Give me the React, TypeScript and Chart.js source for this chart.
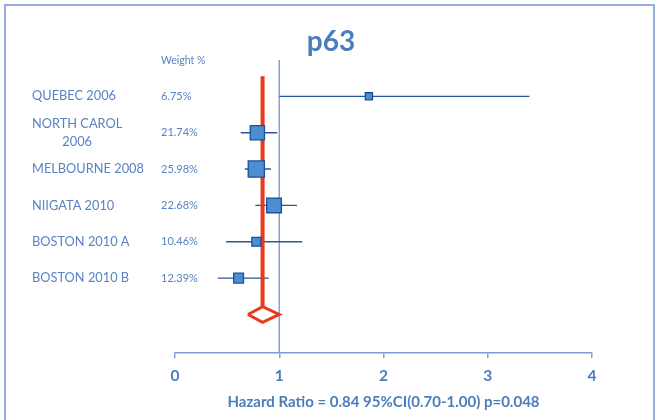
import React, { useEffect, useRef } from "react";
import { Chart, registerables } from "chart.js";

Chart.register(...registerables);

const studies = ["QUEBEC 2006", "NORTH CAROL\n2006", "MELBOURNE 2008", "NIIGATA 2010", "BOSTON 2010 A", "BOSTON 2010 B"];
const weights = [6.75, 21.74, 25.98, 22.68, 10.46, 12.39];
const hazard = [1.86, 0.79, 0.78, 0.95, 0.78, 0.61];
const lower = [1.0, 0.63, 0.67, 0.77, 0.49, 0.41];
const upper = [3.4, 0.98, 0.92, 1.17, 1.22, 0.9];
const pooledHR = 0.84;
const pooledLow = 0.7;
const pooledHigh = 1.0;
const xTicks = [0, 1, 2, 3, 4];
const chartTitle = "p63";
const weightHeader = "Weight %";
const axisTitle = "Hazard Ratio = 0.84 95%CI(0.70-1.00) p=0.048";

const FONT = "Lato, 'Open Sans', sans-serif";
const TEXT_BLUE = "#5883C4";
const TITLE_BLUE = "#4A7EBB";

export default function App() {
  const ref = useRef<HTMLCanvasElement | null>(null);

  useEffect(() => {
    const canvas = ref.current;
    if (!canvas) return;
    const n = studies.length;
    const pooledRow = n;

    const ciData: any[] = [];
    for (let i = 0; i < n; i++) {
      ciData.push({ x: lower[i], y: i });
      ciData.push({ x: upper[i], y: i });
      ciData.push({ x: null, y: null });
    }
    const dh = 0.215;
    const diamond = [
      { x: pooledLow, y: pooledRow },
      { x: pooledHR, y: pooledRow - dh },
      { x: pooledHigh, y: pooledRow },
      { x: pooledHR, y: pooledRow + dh },
      { x: pooledLow, y: pooledRow },
    ];

    const textPlugin = {
      id: "forestText",
      afterDraw(chart: any) {
        const ctx = chart.ctx;
        const ys = chart.scales.y;
        ctx.save();
        ctx.strokeStyle = "#93AEDA";
        ctx.lineWidth = 2;
        ctx.strokeRect(5, 5, 649, 440);
        ctx.fillStyle = TITLE_BLUE;
        ctx.font = `bold 28px ${FONT}`;
        ctx.textAlign = "center";
        ctx.textBaseline = "alphabetic";
        ctx.fillText(chartTitle, 331, 51);
        ctx.fillStyle = TEXT_BLUE;
        ctx.font = `10.5px ${FONT}`;
        ctx.textAlign = "left";
        ctx.textBaseline = "middle";
        ctx.fillText(weightHeader, 161, 61);
        for (let i = 0; i < n; i++) {
          const y = ys.getPixelForValue(i);
          ctx.font = `12.8px ${FONT}`;
          const lines = studies[i].split("\n");
          if (lines.length === 1) {
            ctx.textAlign = "left";
            ctx.fillText(lines[0], 32, y);
          } else {
            const w = ctx.measureText(lines[0]).width;
            ctx.textAlign = "center";
            lines.forEach((ln, k) => {
              ctx.fillText(ln, 32 + w / 2, y + (k - (lines.length - 1) / 2) * 17.5);
            });
          }
          ctx.font = `11px ${FONT}`;
          ctx.textAlign = "left";
          ctx.fillText(weights[i].toFixed(2) + "%", 161, y);
        }
        ctx.restore();
      },
    };

    const chart = new Chart(canvas, {
      type: "scatter",
      data: {
        datasets: [
          {
            label: "studies",
            data: hazard.map((h, i) => ({ x: h, y: i })),
            pointStyle: "rect",
            pointRadius: weights.map((w) => (4 + 0.47 * w) / Math.SQRT2),
            backgroundColor: "#4A8FD2",
            borderColor: "#1F4E96",
            borderWidth: 1.3,
            showLine: false,
          },
          {
            label: "pooled",
            data: diamond,
            showLine: true,
            borderColor: "#E8391A",
            borderWidth: 3,
            pointRadius: 0,
            fill: false,
            tension: 0,
          },
          {
            label: "pooledLine",
            data: [
              { x: pooledHR, y: -0.55 },
              { x: pooledHR, y: pooledRow - dh },
            ],
            showLine: true,
            borderColor: "#E8391A",
            borderWidth: 4,
            pointRadius: 0,
          },
          {
            label: "ci",
            data: ciData,
            showLine: true,
            spanGaps: false,
            borderColor: "#2A569F",
            borderWidth: 1.4,
            pointRadius: 0,
          },
          {
            label: "ref",
            data: [
              { x: 1, y: -1 },
              { x: 1, y: 7.06 },
            ],
            showLine: true,
            borderColor: "#7E9ED3",
            borderWidth: 1.4,
            pointRadius: 0,
          },
        ],
      },
      options: {
        animation: false,
        responsive: false,
        maintainAspectRatio: false,
        layout: { padding: { left: 175, right: 65, top: 60, bottom: 5 } },
        plugins: {
          legend: { display: false },
          tooltip: { enabled: false },
          title: { display: false },
        },
        scales: {
          x: {
            type: "linear",
            min: 0,
            max: 4,
            afterBuildTicks: (scale: any) => {
              scale.ticks = xTicks.map((v) => ({ value: v }));
            },
            afterFit: (scale: any) => {
              scale.height = 62;
            },
            border: { display: true, color: "#7E9ED3", width: 1.5 },
            grid: { drawOnChartArea: false, drawTicks: true, tickLength: 5, color: "#7E9ED3", lineWidth: 1.5 },
            ticks: {
              padding: 9,
              color: TITLE_BLUE,
              font: { family: FONT, size: 15.5, weight: "bold" },
            },
            title: {
              display: true,
              text: axisTitle,
              color: TITLE_BLUE,
              font: { family: FONT, size: 15, weight: "bold" },
              padding: { top: 9, bottom: 4 },
            },
          },
          y: {
            type: "linear",
            display: false,
            reverse: true,
            min: -1,
            max: 7.06,
          },
        },
      },
      plugins: [textPlugin],
    } as any);

    return () => chart.destroy();
  }, []);

  return (
    <div style={{ position: "fixed", left: 0, top: 0, width: 657, height: 420, background: "#fff" }}>
      <canvas ref={ref} width={657} height={420} style={{ display: "block" }} />
    </div>
  );
}
